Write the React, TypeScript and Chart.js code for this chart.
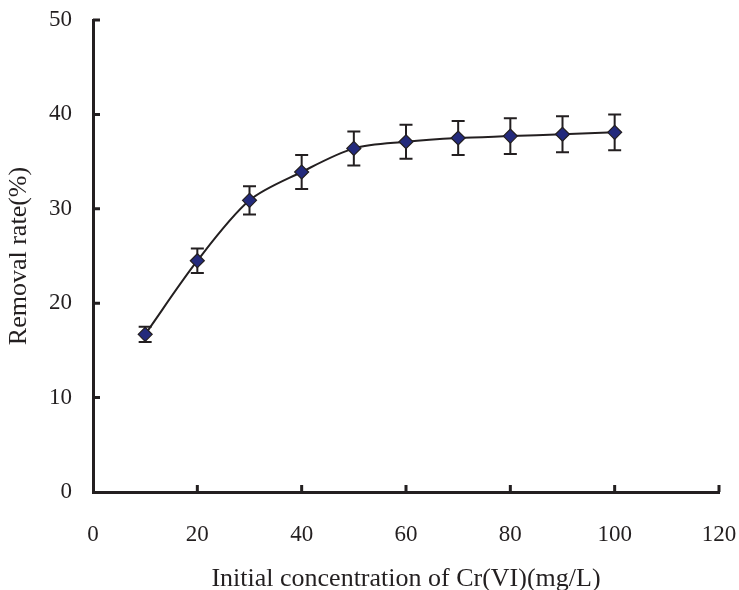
import React, { useEffect, useRef } from "react";
import { Chart, registerables } from "chart.js";

Chart.register(...registerables);

const concentrations = [10, 20, 30, 40, 50, 60, 70, 80, 90, 100];
const removalRates = [16.7, 24.5, 30.9, 33.9, 36.4, 37.1, 37.5, 37.7, 37.9, 38.1];
const errors = [0.8, 1.3, 1.5, 1.8, 1.8, 1.8, 1.8, 1.9, 1.9, 1.9];
const xTicks = [0, 20, 40, 60, 80, 100, 120];
const yTicks = [0, 10, 20, 30, 40, 50];

const INK = "#231f20";
const FONT = "'Liberation Serif', 'Times New Roman', serif";

const errorBarPlugin = {
  id: "errorBars",
  beforeDatasetsDraw(chart: any) {
    const { ctx, scales } = chart;
    const xs = scales.x;
    const ys = scales.y;
    ctx.save();
    ctx.strokeStyle = INK;
    ctx.lineWidth = 2;
    const cap = 6.5;
    concentrations.forEach((c, i) => {
      const px = xs.getPixelForValue(c);
      const top = ys.getPixelForValue(removalRates[i] + errors[i]);
      const bot = ys.getPixelForValue(removalRates[i] - errors[i]);
      ctx.beginPath();
      ctx.moveTo(px, top);
      ctx.lineTo(px, bot);
      ctx.moveTo(px - cap, top);
      ctx.lineTo(px + cap, top);
      ctx.moveTo(px - cap, bot);
      ctx.lineTo(px + cap, bot);
      ctx.stroke();
    });
    ctx.restore();
  },
};

const innerTicksPlugin = {
  id: "innerTicks",
  afterDraw(chart: any) {
    const { ctx, scales, chartArea } = chart;
    const len = 7;
    ctx.save();
    ctx.strokeStyle = INK;
    ctx.lineWidth = 3;
    ctx.beginPath();
    xTicks.forEach((v) => {
      if (v === 0) return;
      const px = scales.x.getPixelForValue(v);
      ctx.moveTo(px, chartArea.bottom);
      ctx.lineTo(px, chartArea.bottom - len);
    });
    yTicks.forEach((v) => {
      if (v === 0) return;
      const py = scales.y.getPixelForValue(v);
      ctx.moveTo(chartArea.left, py);
      ctx.lineTo(chartArea.left + len, py);
    });
    ctx.stroke();
    ctx.restore();
  },
};

function zeroPadding(scale: any) {
  scale.paddingLeft = 0;
  scale.paddingRight = 0;
  scale.paddingTop = 0;
  scale.paddingBottom = 0;
}

export default function App() {
  const ref = useRef<HTMLCanvasElement | null>(null);

  useEffect(() => {
    if (!ref.current) return;
    const chart = new Chart(ref.current, {
      type: "line",
      data: {
        datasets: [
          {
            data: concentrations.map((c, i) => ({ x: c, y: removalRates[i] })),
            borderColor: INK,
            borderWidth: 2,
            tension: 0.3,
            pointStyle: "rectRot",
            pointRadius: 7,
            pointBackgroundColor: "#232a7c",
            pointBorderColor: INK,
            pointBorderWidth: 1.2,
            fill: false,
          },
        ],
      },
      options: {
        animation: false,
        responsive: true,
        maintainAspectRatio: false,
        layout: { padding: { top: 20, right: 20, left: 0, bottom: 0 } },
        plugins: {
          legend: { display: false },
          tooltip: { enabled: false },
        },
        scales: {
          x: {
            type: "linear",
            min: 0,
            max: 120,
            afterFit(scale: any) {
              scale.height = 98;
              zeroPadding(scale);
            },
            afterBuildTicks(scale: any) {
              scale.ticks = xTicks.map((v) => ({ value: v }));
            },
            grid: { display: false, drawTicks: false },
            border: { display: true, width: 3, color: INK },
            ticks: {
              padding: 29,
              color: INK,
              font: { family: FONT, size: 23 },
              maxRotation: 0,
            },
            title: {
              display: true,
              text: "Initial concentration of Cr(VI)(mg/L)",
              color: INK,
              font: { family: FONT, size: 26 },
              padding: { top: 0, bottom: -5 },
            },
          },
          y: {
            type: "linear",
            min: 0,
            max: 50,
            afterFit(scale: any) {
              scale.width = 93;
              zeroPadding(scale);
            },
            afterBuildTicks(scale: any) {
              scale.ticks = yTicks.map((v) => ({ value: v }));
            },
            grid: { display: false, drawTicks: false },
            border: { display: true, width: 3, color: INK },
            ticks: {
              padding: 21,
              color: INK,
              font: { family: FONT, size: 23 },
            },
            title: {
              display: true,
              text: "Removal rate(%)",
              color: INK,
              font: { family: FONT, size: 26 },
              padding: { top: 4, bottom: 0 },
            },
          },
        },
      },
      plugins: [errorBarPlugin, innerTicksPlugin],
    });
    return () => chart.destroy();
  }, []);

  return (
    <div style={{ position: "fixed", left: 0, top: 0, width: 739, height: 590, background: "#fff" }}>
      <canvas ref={ref} />
    </div>
  );
}
